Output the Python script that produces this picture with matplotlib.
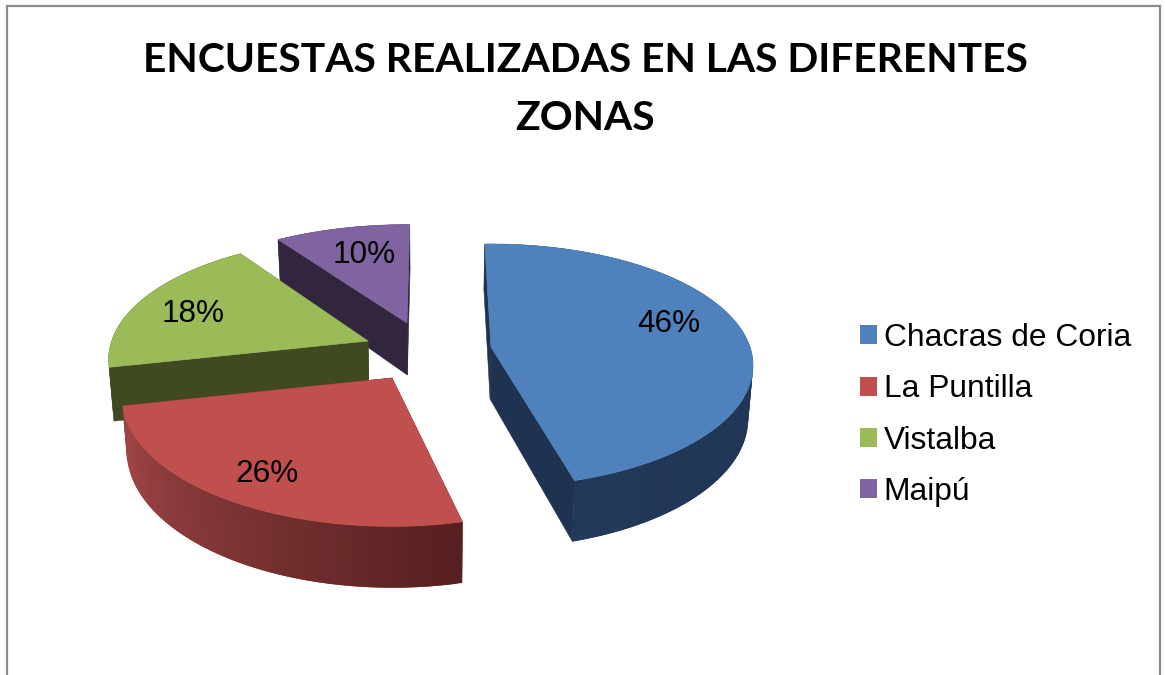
import numpy as np
import matplotlib
matplotlib.use("Agg")
import matplotlib.pyplot as plt
from matplotlib.patches import Patch
from matplotlib.colors import to_rgb

# Data
categories = ["Chacras de Coria", "La Puntilla", "Vistalba", "Maipú"]
percentages = [46, 26, 18, 10]
title_text = "ENCUESTAS REALIZADAS EN LAS DIFERENTES\nZONAS"

# Style and layout
top_colors = ["#4F81BD", "#C0504D", "#9BBB59", "#8064A2"]
wall_colors = ["#1F3350", "#572020", "#404A22", "#32263F"]
outer_light = ["#223859", "#A5484A", "#404A22", "#32263F"]
apexes = [(491, 347), (392, 378), (368, 341), (407, 323)]
x_scale = [1.0, 1.03, 0.99, 1.0]
y_scale = [1.0, 1.06, 1.0, 0.955]
angle_nudge = [(0, 0), (3, 0), (0, 3.5), (3.5, 2.3)]  # view distortion, degrees
label_r = [0.68, 0.85, 0.72, 0.66]
label_shift = [(6, -11), (11, -5), (-10, 3), (2, -3)]
draw_order = [3, 2, 1, 0]
START = -1.6
R, RY, K = 259.0, 118.7, 0.152
DEPTH, BOTTOM_SHRINK, XC = 52.0, 0.985, 430.0

fig = plt.figure(figsize=(11.65, 6.75), dpi=100)
ax = fig.add_axes([0, 0, 1, 1])
ax.set_xlim(0, 1165)
ax.set_ylim(675, 0)
ax.axis("off")


def project(theta, apex, sx, sy):
    th = np.radians(theta)
    u, v = np.sin(th), np.cos(th)
    w = 1 + K * v
    x = apex[0] + sx * R * u / w
    y = apex[1] - sy * RY * v / w
    xb = XC + (x - XC) * BOTTOM_SHRINK
    yb = y + DEPTH / w
    return x, y, xb, yb


def apex_bottom(apex):
    return XC + (apex[0] - XC) * BOTTOM_SHRINK, apex[1] + DEPTH


def poly(xs, ys, color, z, lw=0.4):
    ax.fill(xs, ys, facecolor=color, edgecolor=color if lw else "none", linewidth=lw, zorder=z)


fracs = np.array(percentages, float) / sum(percentages)
edges = START + 360 * np.concatenate([[0], np.cumsum(fracs)])
layer = 1
for i in draw_order:
    a0, a1 = edges[i] + angle_nudge[i][0], edges[i + 1] + angle_nudge[i][1]
    apex, sx, sy = apexes[i], x_scale[i], y_scale[i]
    th = np.linspace(a0, a1, 90)
    x, y, xb, yb = project(th, apex, sx, sy)
    axb, ayb = apex_bottom(apex)
    # radial walls
    poly([apex[0], x[0], xb[0], axb], [apex[1], y[0], yb[0], ayb], wall_colors[i], layer)
    poly([apex[0], x[-1], xb[-1], axb], [apex[1], y[-1], yb[-1], ayb], wall_colors[i], layer)
    # outer wall with a gradient along the arc; each strip overlaps the next seam
    c0, c1 = np.array(to_rgb(wall_colors[i])), np.array(to_rgb(outer_light[i]))
    for j in range(len(th) - 1):
        t = j / (len(th) - 2)
        col = tuple(c0 + (c1 - c0) * t)
        k = min(j + 2, len(th) - 1)
        poly([x[j], x[j + 1], x[k], xb[k], xb[j + 1], xb[j]],
             [y[j], y[j + 1], y[k], yb[k], yb[j + 1], yb[j]], col, layer + 0.5 - 0.001 * j, lw=0)
    # top face
    poly(np.r_[apex[0], x], np.r_[apex[1], y], top_colors[i], layer + 0.8)
    # value label
    mth = np.radians((a0 + a1) / 2)
    f = label_r[i]
    w = 1 + K * f * np.cos(mth)
    lx = apex[0] + sx * R * f * np.sin(mth) / w + label_shift[i][0]
    ly = apex[1] - sy * RY * f * np.cos(mth) / w + label_shift[i][1]
    ax.text(lx, ly, f"{percentages[i]}%", ha="center", va="center", fontsize=22.7,
            family="Liberation Sans", color="black", zorder=20)
    layer += 1

# Chart frame, open at the bottom
ax.plot([7, 7, 1160, 1160], [675, 6, 6, 675], color="#8C8C8C", lw=1.6, zorder=0,
        solid_joinstyle="miter")

# Title
ax.text(585, 90, title_text, ha="center", va="center", fontsize=29.3, fontweight="bold",
        family="Lato", color="black", linespacing=1.7, zorder=20)

# Legend
handles = [Patch(facecolor=c, edgecolor="none") for c in top_colors]
leg = ax.legend(handles, categories, loc="upper left", bbox_to_anchor=(860, 323),
                bbox_transform=ax.transData, frameon=False,
                prop={"family": "Liberation Sans", "size": 22.9},
                handlelength=0.54, handleheight=0.54, handletextpad=0.2,
                labelspacing=0.67, borderpad=0, borderaxespad=0)

fig.savefig("out.png", dpi=100, facecolor="white")
